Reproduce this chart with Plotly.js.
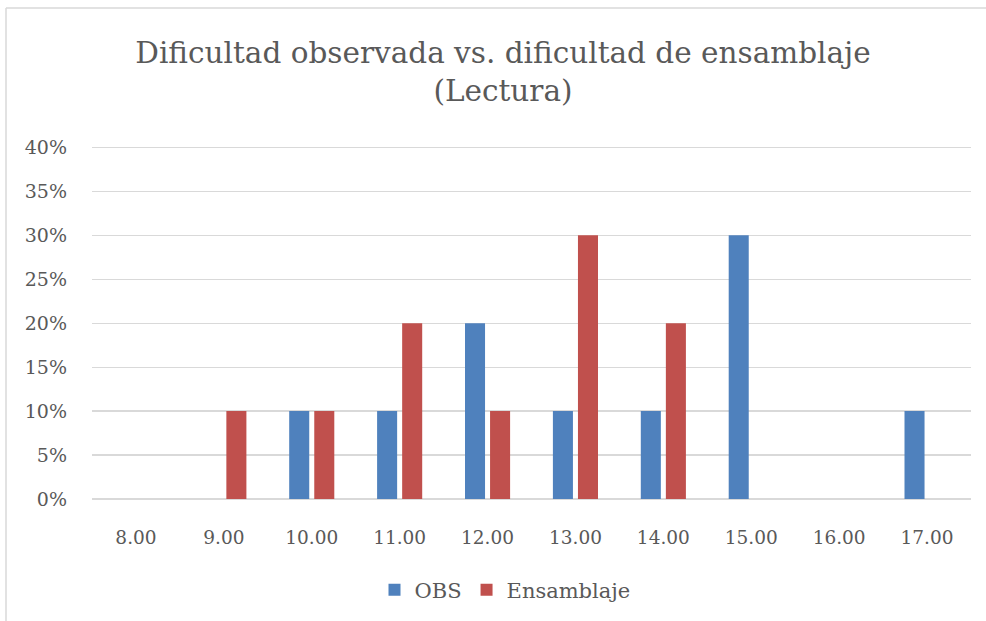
<!DOCTYPE html>
<html>
<head>
<meta charset="utf-8">
<script src="https://cdn.plot.ly/plotly-3.0.1.min.js"></script>
<style>
html,body{margin:0;padding:0;background:#fff;overflow:hidden;}
#chart{width:986px;height:621px;}
</style>
</head>
<body>
<div id="chart"></div>
<script>
const categories = ['8.00','9.00','10.00','11.00','12.00','13.00','14.00','15.00','16.00','17.00'];
const obsValues = [0, 0, 0.10, 0.10, 0.20, 0.10, 0.10, 0.30, 0, 0.10];
const ensamblajeValues = [0, 0.10, 0.10, 0.20, 0.10, 0.30, 0.20, 0, 0, 0];
const seriesNames = ['OBS', 'Ensamblaje'];
const yTickVals = [0, 0.05, 0.10, 0.15, 0.20, 0.25, 0.30, 0.35, 0.40];
const yTickText = ['0%','5%','10%','15%','20%','25%','30%','35%','40%'];

const FONT = 'DejaVu Serif';
const TXT = '#595959';

const L = 92, R = 15, T = 145, B = 122, W = 986, H = 621;
const pw = W - L - R, ph = H - T - B;
const px = v => (v - L) / pw;
const py = v => 1 - (v - T) / ph;

const traces = [
  {type:'bar', name:seriesNames[0], x:categories, y:obsValues,
   marker:{color:'#4F81BD', line:{width:0}}, hoverinfo:'none'},
  {type:'bar', name:seriesNames[1], x:categories, y:ensamblajeValues,
   marker:{color:'#C0504D', line:{width:0}}, hoverinfo:'none'}
];

const layout = {
  width: W, height: H,
  margin:{l:L, r:R, t:T, b:B, pad:0},
  paper_bgcolor:'#fff', plot_bgcolor:'#fff',
  font:{family:FONT, color:TXT, size:18},
  title:{text:'Dificultad observada vs. dificultad de ensamblaje<br>(Lectura)',
         font:{family:FONT, size:29.5, color:TXT},
         x:503/W, xref:'container', xanchor:'center',
         y:1-63/H, yref:'container', yanchor:'middle'},
  barmode:'group', bargap:0.43, bargroupgap:0.2,
  xaxis:{type:'category', showgrid:false, zeroline:false, showline:false,
         ticks:'', tickfont:{family:FONT, size:18.5, color:TXT}, ticklabelstandoff:25,
         fixedrange:true},
  yaxis:{range:[0,0.4028], tickvals:yTickVals, ticktext:yTickText,
         showgrid:true, gridcolor:'#D9D9D9', gridwidth:1.3,
         zeroline:true, zerolinecolor:'#D9D9D9', zerolinewidth:1.3,
         showline:false, ticks:'', tickfont:{family:FONT, size:19, color:TXT},
         ticklabelstandoff:24, fixedrange:true},
  showlegend:true,
  legend:{orientation:'h', x:505/W, xref:'container', xanchor:'center',
          y:1-590/H, yref:'container', yanchor:'middle',
          font:{family:FONT, size:21, color:TXT}, itemwidth:30, traceorder:'normal'},
  shapes:[
    {type:'line', xref:'paper', yref:'paper', x0:px(6), x1:px(1000), y0:py(8), y1:py(8),
     line:{color:'#D9D9D9', width:1.5}},
    {type:'line', xref:'paper', yref:'paper', x0:px(6), x1:px(6), y0:py(8), y1:py(700),
     line:{color:'#D9D9D9', width:1.5}}
  ]
};

Plotly.newPlot('chart', traces, layout, {displayModeBar:false, staticPlot:true});
</script>
</body>
</html>
